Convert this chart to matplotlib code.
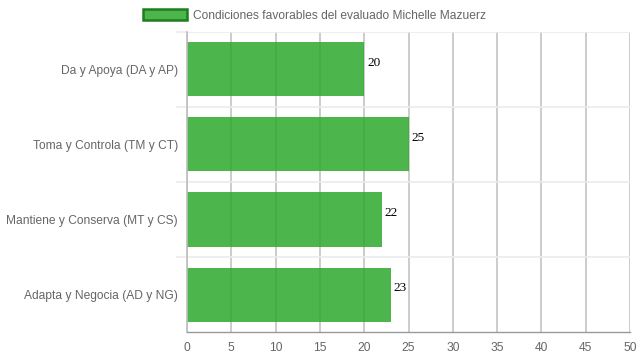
import matplotlib
matplotlib.use("Agg")
import matplotlib.pyplot as plt
from matplotlib.patches import Patch

categories = ["Da y Apoya (DA y AP)", "Toma y Controla (TM y CT)",
              "Mantiene y Conserva (MT y CS)", "Adapta y Negocia (AD y NG)"]
values = [20, 25, 22, 23]
series_label = "Condiciones favorables del evaluado Michelle Mazuerz"
xticks = [0, 5, 10, 15, 20, 25, 30, 35, 40, 45, 50]

plt.rcParams['font.family'] = ['Liberation Sans', 'DejaVu Sans']

W, H = 639, 360
fig = plt.figure(figsize=(W / 100, H / 100), dpi=100)
ax = fig.add_axes([187 / W, (H - 332) / H, (630 - 187) / W, 300 / H])

n = len(categories)
ypos = list(range(n))
bar_color = (44 / 255, 168 / 255, 44 / 255, 0.85)
fs = 8.64

ax.set_xlim(0, 50)
ax.set_ylim(n - 0.5, -0.5)

# grid lines
for x in xticks:
    ax.axvline(x, color='#c4c4c4', lw=1.2, zorder=1)
for b in [k - 0.5 for k in range(n)]:
    ax.axhline(b, color='#ebebeb', lw=1.2, zorder=1)

ax.barh(ypos, values, height=0.72, color=bar_color, zorder=2)

for y, v in zip(ypos, values):
    ax.annotate(str(v), (v, y), xytext=(2, 5), textcoords='offset points',
                ha='left', va='center', fontsize=9.5, color='black',
                family=['Liberation Serif', 'DejaVu Serif'], zorder=3)

ax.set_xticks(xticks)
ax.set_xticklabels([str(t) for t in xticks])
ax.set_yticks([k - 0.5 for k in range(n)], minor=False)
ax.set_yticklabels([])
ax.set_yticks(ypos, minor=True)
ax.set_yticklabels(categories, minor=True)

ax.tick_params(axis='x', length=0, pad=7, labelsize=fs, labelcolor='#666666')
ax.tick_params(axis='y', which='major', length=8, color='#ebebeb', width=1.2)
ax.tick_params(axis='y', which='minor', length=0, pad=6.5, labelsize=fs, labelcolor='#666666')

for s in ['top', 'right']:
    ax.spines[s].set_visible(False)
ax.spines['left'].set_color('#bdbdbd')
ax.spines['left'].set_linewidth(1.2)
ax.spines['bottom'].set_color('#999999')
ax.spines['bottom'].set_linewidth(1.0)

handle = Patch(facecolor=bar_color, edgecolor='#1e7d1e', linewidth=1.8)
fig.legend([handle], [series_label], loc='center',
           bbox_to_anchor=(0.5 - 5 / W, 1 - 15.5 / H),
           frameon=False, fontsize=fs, labelcolor='#666666',
           handlelength=3.6, handleheight=1.0, handletextpad=0.5)

fig.savefig("out.png", dpi=100)
